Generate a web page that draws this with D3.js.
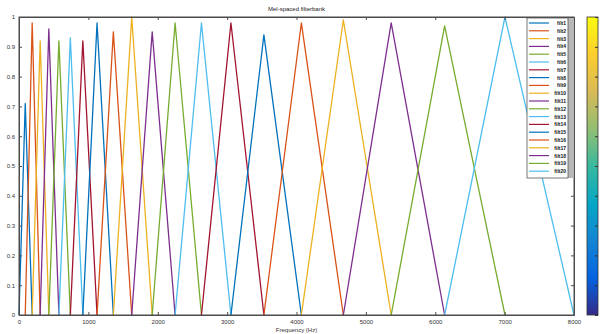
<!DOCTYPE html>
<html>
<head>
<meta charset="utf-8">
<script src="https://cdn.jsdelivr.net/npm/d3@7"></script>
<style>
  body { margin: 0; background: #fff; }
  svg { display: block; font-family: "Liberation Sans", "DejaVu Sans", sans-serif; }
</style>
</head>
<body>
<script>
// filter edges in Hz: 0, the 20 peak frequencies, then fs/2
const edgesHz = [0, 90, 190, 305, 430, 575, 740, 920, 1125, 1360, 1625, 1920, 2250, 2630, 3055, 3530, 4070, 4675, 5365, 6135, 7005, 8000];
// peak heights
const peakHeights = [0.71, 0.98, 0.92, 0.96, 0.92, 0.93, 0.92, 0.98, 0.95, 1.0, 0.95, 0.98, 0.98, 0.98, 0.94, 0.98, 0.99, 0.98, 0.97, 1.0];
const filterNames = d3.range(1, 21).map(i => "filt" + i);
const xTicks = [0, 1000, 2000, 3000, 4000, 5000, 6000, 7000, 8000];
const yTicks = [0, 0.1, 0.2, 0.3, 0.4, 0.5, 0.6, 0.7, 0.8, 0.9, 1];
const lineColors = ["#0072BD", "#D95319", "#EDB120", "#7E2F8E", "#77AC30", "#4DBEEE", "#A2142F"];
const parula = ["#352a87", "#0363e1", "#1485d4", "#06a7c6", "#38b99e", "#92bf73", "#d9ba56", "#fcce2e", "#f9fb0e"];

const width = 605, height = 334;
const mLeft = 19, mRight = 574, mTop = 17, mBottom = 315;

const svg = d3.select("body").append("svg")
  .attr("width", width).attr("height", height);

const x = d3.scaleLinear().domain([0, 8000]).range([mLeft, mRight]);
const y = d3.scaleLinear().domain([0, 1]).range([mBottom, mTop]);

// triangles
const filters = peakHeights.map((h, i) => ({
  name: filterNames[i],
  color: lineColors[i % lineColors.length],
  pts: [[edgesHz[i], 0], [edgesHz[i + 1], h], [edgesHz[i + 2], 0]]
}));

const line = d3.line().x(d => x(d[0])).y(d => y(d[1]));
svg.append("g").selectAll("path")
  .data(filters)
  .enter().append("path")
  .attr("d", d => line(d.pts))
  .attr("fill", "none")
  .attr("stroke", d => d.color)
  .attr("stroke-width", 1.3)
  .attr("stroke-linejoin", "round");

// axes (MATLAB box style, ticks inside)
const axColor = "#4d4d4d";
svg.append("g").attr("transform", `translate(0,${mBottom})`)
  .call(d3.axisBottom(x).tickValues(xTicks).tickFormat(d3.format("d")).tickSizeInner(-3).tickSizeOuter(0).tickPadding(5))
  .call(g => g.selectAll("text").attr("font-size", 6));
svg.append("g").attr("transform", `translate(0,${mTop})`)
  .call(d3.axisTop(x).tickValues(xTicks).tickSizeInner(-3).tickSizeOuter(0).tickFormat(""));
svg.append("g").attr("transform", `translate(${mLeft},0)`)
  .call(d3.axisLeft(y).tickValues(yTicks).tickFormat(d3.format("~g")).tickSizeInner(-3).tickSizeOuter(0).tickPadding(4))
  .call(g => g.selectAll("text").attr("font-size", 6));
svg.append("g").attr("transform", `translate(${mRight},0)`)
  .call(d3.axisRight(y).tickValues(yTicks).tickSizeInner(-3).tickSizeOuter(0).tickFormat(""));
svg.selectAll(".domain").attr("stroke", axColor);
svg.selectAll(".tick line").attr("stroke", axColor);
svg.selectAll(".tick text").attr("fill", "#333");
svg.append("rect")
  .attr("x", mLeft).attr("y", mTop)
  .attr("width", mRight - mLeft).attr("height", mBottom - mTop)
  .attr("fill", "none").attr("stroke", axColor).attr("stroke-width", 1);

// title and x label
svg.append("text").attr("x", (mLeft + mRight) / 2).attr("y", 11)
  .attr("text-anchor", "middle").attr("font-size", 6).attr("fill", "#222")
  .text("Mel-spaced filterbank");
svg.append("text").attr("x", (mLeft + mRight) / 2).attr("y", 332)
  .attr("text-anchor", "middle").attr("font-size", 6).attr("fill", "#333")
  .text("Frequency (Hz)");

// legend
const legX = 527, legY = 18, legW = 41, rowH = 7.8;
const legH = filters.length * rowH + 4;
svg.append("rect").attr("x", legX + legW).attr("y", legY)
  .attr("width", mRight - legX - legW).attr("height", legH)
  .attr("fill", "#b8b8b8");
svg.append("rect").attr("x", legX).attr("y", legY)
  .attr("width", legW).attr("height", legH)
  .attr("fill", "#fff").attr("stroke", "#555").attr("stroke-width", 0.8);
const leg = svg.append("g").selectAll("g")
  .data(filters).enter().append("g")
  .attr("transform", (d, i) => `translate(${legX},${legY + 5 + i * rowH})`);
leg.append("line").attr("x1", 2).attr("x2", 22)
  .attr("stroke", d => d.color).attr("stroke-width", 1.2);
leg.append("text").attr("x", 39).attr("y", 2).attr("text-anchor", "end")
  .attr("font-size", 5).attr("font-weight", "bold").attr("fill", "#111")
  .text(d => d.name);

// colorbar
const cbX = 587, cbW = 11;
const defs = svg.append("defs");
const grad = defs.append("linearGradient").attr("id", "parula")
  .attr("x1", 0).attr("x2", 0).attr("y1", 1).attr("y2", 0);
grad.selectAll("stop").data(parula).enter().append("stop")
  .attr("offset", (d, i) => i / (parula.length - 1))
  .attr("stop-color", d => d);
svg.append("rect").attr("x", cbX).attr("y", mTop)
  .attr("width", cbW).attr("height", mBottom - mTop)
  .attr("fill", "url(#parula)").attr("stroke", "#333").attr("stroke-width", 0.8);
const cbY = d3.scaleLinear().domain([0, 1]).range([mBottom, mTop]);
svg.append("g").attr("transform", `translate(${cbX + cbW},0)`)
  .call(d3.axisRight(cbY).tickValues(yTicks).tickSize(-3).tickFormat(""))
  .call(g => g.select(".domain").remove())
  .call(g => g.selectAll("line").attr("stroke", "#333"));
</script>
</body>
</html>
